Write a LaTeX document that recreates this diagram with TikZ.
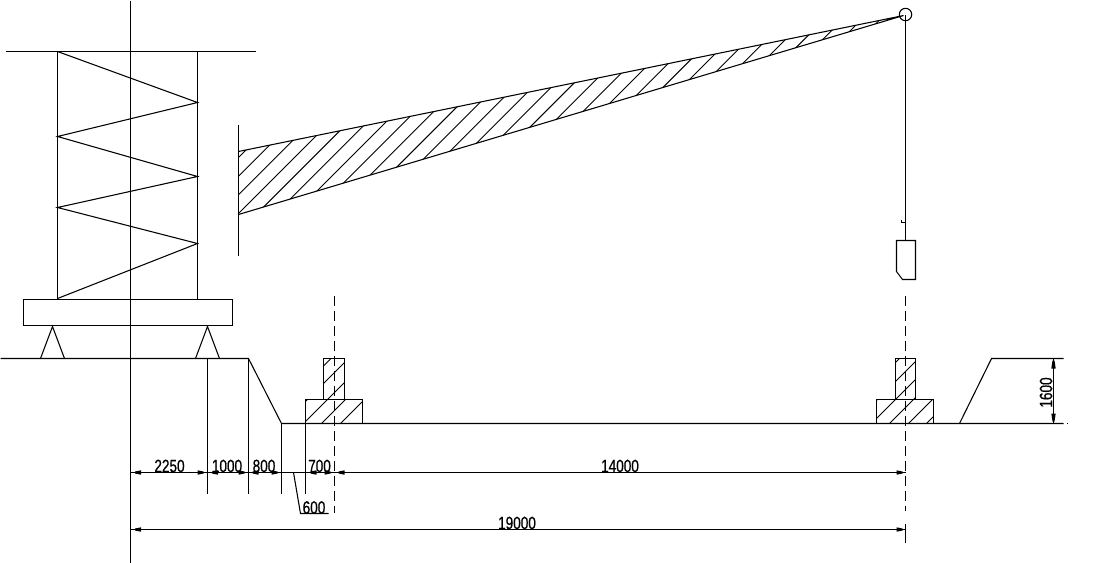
\documentclass[tikz,border=0pt]{standalone}
\usepackage{fontspec}
\newfontfamily\dimfont[FakeStretch=0.76,FakeBold=0.6]{Liberation Sans}
\tikzset{
  ln/.style={line width=0.8pt,line join=miter},
  hatchline/.style={line width=0.7pt},
  cl/.style={line width=0.8pt,dash pattern=on 7.5pt off 3.75pt},
  dimtxt/.style={font=\dimfont\fontsize{13.4pt}{13.4pt}\selectfont,inner sep=0pt,text=black}
}
\newcommand{\arL}[2]{\fill (#1,#2-1)--(#1,#2+1)--(#1+6,#2+2.2)--(#1+6,#2-2.2)--cycle;}
\newcommand{\arR}[2]{\fill (#1,#2-1)--(#1,#2+1)--(#1-6,#2+2.2)--(#1-6,#2-2.2)--cycle;}
\begin{document}
\begin{tikzpicture}[x=0.75pt,y=-0.75pt]
\useasboundingbox (-0.5,-0.5) rectangle (1093.5,561.5);
% axis and tower
\draw[ln] (130,0)--(130,562);
\draw[ln] (5,51)--(255,51);
\draw[ln] (57,51)--(57,298);
\draw[ln] (197,51)--(197,298);
\draw[ln] (57,51)--(197,102)--(57,136)--(197,176)--(57,207)--(197,243)--(57,298);
\draw[ln] (23,299) rectangle (232,325);
\draw[ln] (40,358)--(52,326)--(64,358);
\draw[ln] (195,358)--(207,326)--(219,358);
% boom
\draw[ln] (238,124)--(238,255);
\draw[ln] (238,151)--(903,15)--(238,214);
\begin{scope}
\clip (238,151)--(903,15)--(238,214)--cycle;
\foreach \i in {0,...,28}{\pgfmathsetmacro{\s}{395+18.65*\i}\draw[hatchline] (\s,0)--(0,\s);}
\end{scope}
\draw[ln] (905,14) circle (6.2);
% hoist
\draw[ln] (905,14)--(905,240);
\draw[ln] (901,219)--(901,222)--(905,222);
\draw[ln] (896,240)--(915,240)--(915,279)--(902,279)--(896,271)--cycle;
% ground
\draw[ln] (0,358)--(248,358)--(281,423)--(1063,423);
\draw[ln] (959,423)--(991,358)--(1063,358);
\fill (1066.5,422.5) rectangle (1067.5,423.5);
% footings
\draw[ln] (323,358) rectangle (344,399);
\draw[ln] (305,399) rectangle (362,423);
\draw[ln] (895,358) rectangle (915,399);
\draw[ln] (876,399) rectangle (933,423);
\begin{scope}
\clip (323,358) rectangle (344,399) (305,399) rectangle (362,423);
\foreach \s in {688.5,706,726,744,763}{\draw[hatchline] (\s,0)--(0,\s);}
\end{scope}
\begin{scope}
\clip (895,358) rectangle (915,399) (876,399) rectangle (933,423);
\foreach \s in {1257,1276,1294,1312,1331,1349}{\draw[hatchline] (\s,0)--(0,\s);}
\end{scope}
% centre lines
\draw[cl] (334,295)--(334,512);
\draw[cl] (905,295)--(905,510);
\draw[ln] (905,523)--(905,542);
% extension lines
\draw[ln] (207,358)--(207,493);
\draw[ln] (248,358)--(248,493);
\draw[ln] (281,423)--(281,493);
\draw[ln] (305,423)--(305,493);
% dimension lines
\draw[ln] (130,472)--(905,472);
\draw[ln] (130,529)--(905,529);
\draw[ln] (1053,358)--(1053,423);
\draw[ln] (293,472)--(300,513)--(328,513);
\arL{134.5}{472}\arR{203}{472}\arL{211.5}{472}\arR{244}{472}\arL{252}{472}\arR{277}{472}
\arL{310}{472}\arR{330}{472}\arL{338}{472}\arR{902}{472}
\arL{134.5}{529}\arR{902}{529}
\fill (1053-1,360)--(1053+1,360)--(1053+2.2,368)--(1053-2.2,368)--cycle;
\fill (1053-1,421)--(1053+1,421)--(1053+2.2,413)--(1053-2.2,413)--cycle;
% texts
\node[dimtxt] (d2250) at (169,465.5) {2250};
\node[dimtxt] (d1000) at (226.5,465.5) {1000};
\node[dimtxt] (d800) at (263.5,465.5) {800};
\node[dimtxt] (d700) at (319,465.5) {700};
\node[dimtxt] (d14000) at (619.5,465.5) {14000};
\node[dimtxt] (d600) at (313.5,507) {600};
\node[dimtxt] (d19000) at (516.5,522.5) {19000};
\node[dimtxt,rotate=90] (d1600) at (1045.5,392) {1600};
\end{tikzpicture}
\end{document}
